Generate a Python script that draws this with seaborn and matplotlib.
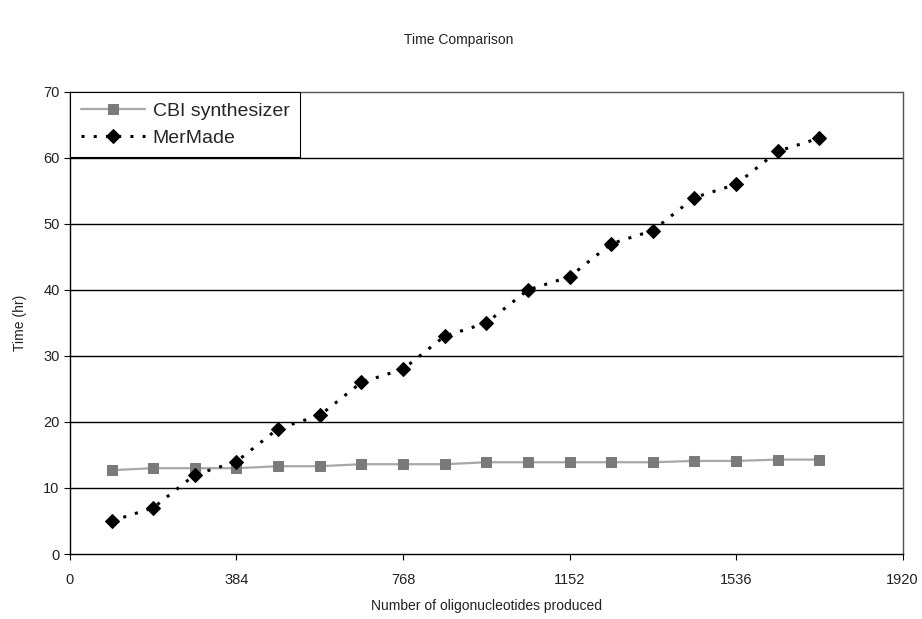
import matplotlib
matplotlib.use("Agg")
import matplotlib.pyplot as plt
import seaborn as sns
import pandas as pd

oligos = [96, 192, 288, 384, 480, 576, 672, 768, 864, 960, 1056, 1152, 1248, 1344, 1440, 1536, 1632, 1728]
cbi_time = [12.7, 13.0, 13.0, 13.0, 13.3, 13.3, 13.6, 13.6, 13.6, 13.9, 13.9, 13.9, 13.9, 13.9, 14.1, 14.1, 14.3, 14.3]
mermade_time = [5, 7, 12, 14, 19, 21, 26, 28, 33, 35, 40, 42, 47, 49, 54, 56, 61, 63]
x_ticks = [0, 384, 768, 1152, 1536, 1920]
y_ticks = [0, 10, 20, 30, 40, 50, 60, 70]

sns.set_theme(style="white")
plt.rcParams['font.family'] = ['Liberation Sans', 'DejaVu Sans']

fig = plt.figure(figsize=(9.22, 6.19), dpi=100)
ax = fig.add_axes([0.0759, 0.105, 0.903, 0.7465])

df_cbi = pd.DataFrame({"x": oligos, "y": cbi_time})
df_mm = pd.DataFrame({"x": oligos, "y": mermade_time})

sns.lineplot(data=df_cbi, x="x", y="y", ax=ax, color="#a8a8a8", linewidth=1.6,
             marker="s", markersize=7, markerfacecolor="#7a7a7a", markeredgecolor="#7a7a7a",
             label="CBI synthesizer")
sns.lineplot(data=df_mm, x="x", y="y", ax=ax, color="black", linewidth=2.2,
             linestyle=(0, (1, 3)), marker="D", markersize=7, markerfacecolor="black",
             markeredgecolor="black", label="MerMade")

ax.set_xlim(0, 1920)
ax.set_ylim(0, 70)
ax.set_xticks(x_ticks)
ax.set_xticklabels([str(v) for v in x_ticks])
ax.set_yticks(y_ticks)
ax.set_yticklabels([str(v) for v in y_ticks])

for yv in y_ticks[1:-1]:
    ax.axhline(yv, color="black", linewidth=1.0, zorder=0)

for side in ["left", "bottom"]:
    ax.spines[side].set_color("black")
    ax.spines[side].set_linewidth(1.0)
for side in ["top", "right"]:
    ax.spines[side].set_color("#555555")
    ax.spines[side].set_linewidth(1.0)
    ax.spines[side].set_linestyle((0, (1, 1)))

ax.tick_params(axis="both", which="major", direction="out", length=4, width=0.8,
               color="black", labelsize=10.5, labelcolor="#222222", bottom=True, left=True)
ax.tick_params(axis="x", pad=10)

ax.set_xlabel("Number of oligonucleotides produced", fontsize=10, color="#222222", labelpad=8)
ax.set_ylabel("Time (hr)", fontsize=10, color="#222222", labelpad=12)

fig.text(0.497, 0.935, "Time Comparison", ha="center", va="center", fontsize=10, color="#222222")

leg = ax.legend(loc="upper left", bbox_to_anchor=(0, 1), borderaxespad=0, fancybox=False,
                framealpha=1, edgecolor="black", fontsize=14, handlelength=3.3,
                handletextpad=0.4, borderpad=0.55, labelspacing=0.45)
leg.get_frame().set_linewidth(0.8)

fig.savefig("out.png", dpi=100, facecolor="white")
